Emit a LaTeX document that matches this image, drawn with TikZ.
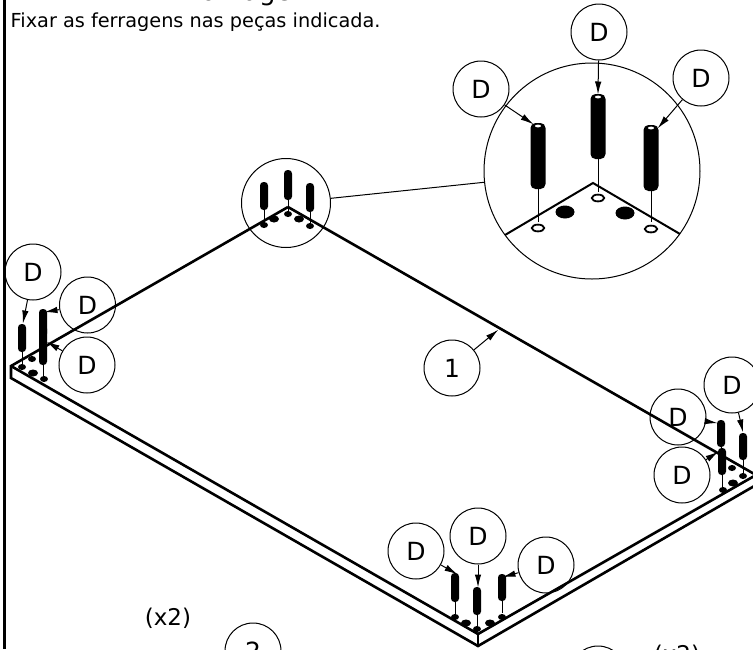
\documentclass[tikz,border=0pt]{standalone}
\usepackage{fontspec}
\setmainfont{DejaVu Sans}
\usetikzlibrary{arrows.meta}
\tikzset{
  callout/.style={circle,draw=black,line width=1pt,minimum size=56pt,inner sep=0pt,font=\fontsize{25}{29}\selectfont},
  pointer/.style={line width=1pt,-{Latex[length=13pt,width=6.5pt]},shorten >=-0.5pt},
  plate/.style={line width=2.6pt,line join=miter},
  lens/.style={line width=1pt,draw=black},
  note/.style={font=\fontsize{23}{28}\selectfont,inner sep=0pt},
  rod/.style={line width=1pt},
}
\newcommand{\pegdraw}[4]{%
  \fill[black,rounded corners=3.5pt] (#1-4,#2) rectangle (#1+4,#3);
  \draw[rod] (#1,#3) -- (#1,#4);
}
\newcommand{\dotdraw}[2]{\fill[black] (#1,#2) ellipse [x radius=4,y radius=3];}
\newcommand{\blobdraw}[2]{\fill[black] (#1,#2) ellipse [x radius=5,y radius=3.5];}
\newcommand{\bigpeg}[5]{%
  \fill[black,rounded corners=5pt] (#1-7.5,#2) rectangle (#1+7.5,#3);
  \fill[white] (#1,#2+3) ellipse [x radius=3,y radius=1.4];
  \draw[rod] (#1,#3) -- (#1,#4);
  \draw[black,line width=1.8pt,fill=white] (#1,#5) ellipse [x radius=6.2,y radius=3.4];
}
\begin{document}
\begin{tikzpicture}[x=1pt,y=-1pt]
\useasboundingbox (0,0) rectangle (753,649);
\clip (0,0) rectangle (753,649);
\fill[white] (0,0) rectangle (753,649);
% frame and heading
\draw[line width=3pt] (4.5,0) -- (4.5,649);
\node[anchor=base west,inner sep=0pt,font=\fontsize{26}{30}\selectfont] (title) at (178,0) {Montagem};
\node[anchor=base west,inner sep=0pt,font=\fontsize{19.3}{24}\selectfont] (caption) at (10.5,27) {Fixar as ferragens nas peças indicada.};
% plate
\coordinate (pa) at (288,207);
\coordinate (pl) at (11,366);
\coordinate (pll) at (11,378);
\coordinate (pf) at (478,634);
\coordinate (pfl) at (478,646);
\coordinate (pr) at (756,475);
\coordinate (prl) at (756,485);
\draw[plate] (pa) -- (pl) -- (pll) -- (pfl) -- (prl);
\draw[plate] (pl) -- (pf) -- (pr) -- (pa);
\draw[line width=1.4pt] (pf) -- (pfl);
% detail lens
\node[circle,lens,minimum size=89pt,inner sep=0pt] (small) at (286,203) {};
\node[circle,lens,minimum size=216pt,inner sep=0pt] (big) at (592,171) {};
\draw[lens] (small) -- (big);
% small lens content
\pegdraw{264}{182}{210}{224}\pegdraw{288}{170}{200}{213}\pegdraw{310}{183}{212}{225}
\dotdraw{264}{225}\dotdraw{288}{214}\dotdraw{310}{226}\blobdraw{274}{219}\blobdraw{299}{219}
% big lens content
\coordinate (ba) at (593,183);
\draw[line width=2pt] (505,235) -- (ba) -- (680,234);
\bigpeg{538}{123}{189}{222}{228}
\bigpeg{598}{94}{159}{192}{198}
\bigpeg{651}{125}{191}{222}{229}
\fill[black] (565,212) ellipse [x radius=9.5,y radius=6.5];
\fill[black] (625,213) ellipse [x radius=9.5,y radius=6.5];
% big lens callouts
\node[callout] (da) at (481,89) {D};
\node[callout] (db) at (599,32) {D};
\node[callout] (dc) at (701,78) {D};
\coordinate (ta) at (533,124);
\coordinate (tb) at (598,94);
\coordinate (tc) at (658,128);
\draw[pointer] (da) -- (ta);
\draw[pointer] (db) -- (tb);
\draw[pointer] (dc) -- (tc);
% left corner
\pegdraw{22}{324}{352}{365}\pegdraw{43}{309}{337}{350}\pegdraw{43}{325}{365}{378}
\dotdraw{22}{367}\dotdraw{32}{359}\blobdraw{33}{373}\dotdraw{44}{379}
\node[callout] (dd) at (33,272) {D};
\node[callout] (de) at (87.5,305) {D};
\node[callout] (df) at (87,365) {D};
\coordinate (td) at (23,323);
\coordinate (te) at (45,312);
\coordinate (tf) at (47,342);
\draw[pointer] (dd) -- (td);
\draw[pointer] (de) -- (te);
\draw[pointer] (df) -- (tf);
% right corner
\pegdraw{743}{433}{460}{473}\pegdraw{721}{420}{447}{460}\pegdraw{722}{448}{475}{487}
\dotdraw{743}{476}\dotdraw{723}{490}\dotdraw{732}{468}\blobdraw{733}{483}
\node[callout] (dg) at (732,385) {D};
\node[callout] (dh) at (678,417) {D};
\node[callout] (di) at (682,475) {D};
\coordinate (tg) at (743,432);
\coordinate (th) at (717,423);
\coordinate (ti) at (718,452);
\draw[pointer] (dg) -- (tg);
\draw[pointer] (dh) -- (th);
\draw[pointer] (di) -- (ti);
% front corner
\pegdraw{455}{573}{602}{615}\pegdraw{477}{587}{615}{628}\pegdraw{502}{574}{601}{613}
\dotdraw{455}{617}\dotdraw{477}{629}\dotdraw{502}{617}\blobdraw{466}{623}\blobdraw{490}{623}
\node[callout] (dj) at (416,551) {D};
\node[callout] (dk) at (478,536) {D};
\node[callout] (dl) at (546,565) {D};
\coordinate (tj) at (457,574);
\coordinate (tk) at (478,587);
\coordinate (tl) at (503,577);
\draw[pointer] (dj) -- (tj);
\draw[pointer] (dk) -- (tk);
\draw[pointer] (dl) -- (tl);
% part callouts
\node[callout] (one) at (452,368) {1};
\coordinate (tone) at (498,330);
\draw[pointer] (one) -- (tone);
\node[callout] (two) at (253,651) {2};
\node[callout] (three) at (598,674) {3};
\node[note] (qa) at (168,618) {(x2)};
\node[note] (qb) at (677,655) {(x2)};
\end{tikzpicture}
\end{document}
